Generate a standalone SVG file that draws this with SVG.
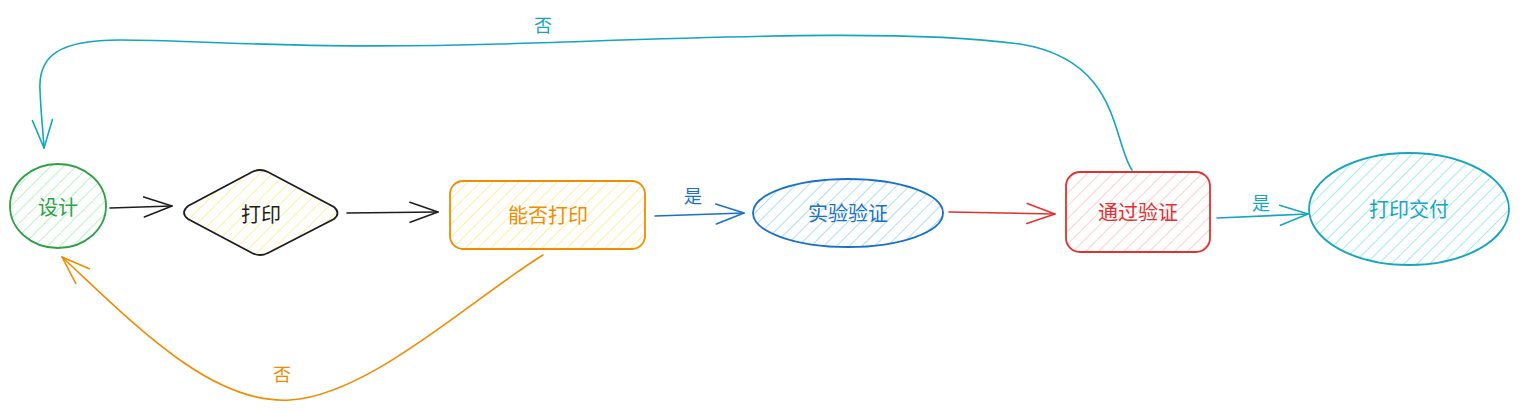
<svg xmlns="http://www.w3.org/2000/svg" width="1520" height="411" viewBox="0 0 1520 411">
<style>
text{font-family:"Noto Sans CJK SC","Noto Sans",sans-serif;font-size:20px;text-anchor:middle;dominant-baseline:central}
.lbl{font-size:18px}
.c{fill:none;stroke-width:1.6;stroke-linecap:round;stroke-linejoin:round}
.n{stroke-width:1.8}
</style>
<defs>
<pattern id="hg" width="9" height="9" patternUnits="userSpaceOnUse" patternTransform="rotate(45)"><line x1="0" y1="0" x2="0" y2="9" stroke="#b2f2bb" stroke-width="1.8"/></pattern>
<pattern id="hy" width="9" height="9" patternUnits="userSpaceOnUse" patternTransform="rotate(45)"><line x1="0" y1="0" x2="0" y2="9" stroke="#ffec99" stroke-width="1.8"/></pattern>
<pattern id="hb" width="9" height="9" patternUnits="userSpaceOnUse" patternTransform="rotate(45)"><line x1="0" y1="0" x2="0" y2="9" stroke="#a5d8ff" stroke-width="1.8"/></pattern>
<pattern id="hr" width="9" height="9" patternUnits="userSpaceOnUse" patternTransform="rotate(45)"><line x1="0" y1="0" x2="0" y2="9" stroke="#ffc9c9" stroke-width="1.8"/></pattern>
<pattern id="hc" width="9" height="9" patternUnits="userSpaceOnUse" patternTransform="rotate(45)"><line x1="0" y1="0" x2="0" y2="9" stroke="#99e9f2" stroke-width="1.8"/></pattern>
<marker id="ak" markerUnits="userSpaceOnUse" markerWidth="40" markerHeight="40" refX="30" refY="20" orient="auto" viewBox="0 0 40 40"><path d="M2,10 L30,20 L2,30" fill="none" stroke="#1e1e1e" stroke-width="1.6" stroke-linecap="round" stroke-linejoin="round"/></marker>
<marker id="ab" markerUnits="userSpaceOnUse" markerWidth="40" markerHeight="40" refX="30" refY="20" orient="auto" viewBox="0 0 40 40"><path d="M2,10 L30,20 L2,30" fill="none" stroke="#1971c2" stroke-width="1.6" stroke-linecap="round" stroke-linejoin="round"/></marker>
<marker id="ar" markerUnits="userSpaceOnUse" markerWidth="40" markerHeight="40" refX="30" refY="20" orient="auto" viewBox="0 0 40 40"><path d="M2,10 L30,20 L2,30" fill="none" stroke="#e03131" stroke-width="1.6" stroke-linecap="round" stroke-linejoin="round"/></marker>
<marker id="ac" markerUnits="userSpaceOnUse" markerWidth="40" markerHeight="40" refX="30" refY="20" orient="auto" viewBox="0 0 40 40"><path d="M2,10 L30,20 L2,30" fill="none" stroke="#17a5be" stroke-width="1.6" stroke-linecap="round" stroke-linejoin="round"/></marker>
<marker id="ao" markerUnits="userSpaceOnUse" markerWidth="40" markerHeight="40" refX="30" refY="20" orient="auto" viewBox="0 0 40 40"><path d="M2,10 L30,20 L2,30" fill="none" stroke="#f08c00" stroke-width="1.6" stroke-linecap="round" stroke-linejoin="round"/></marker>
</defs>

<g id="connectors">
<path class="c" stroke="#1e1e1e" d="M110,208 L172,206" marker-end="url(#ak)"/>
<path class="c" stroke="#1e1e1e" d="M347,213 L438,212" marker-end="url(#ak)"/>
<path class="c" stroke="#1971c2" d="M655,216 L744,213" marker-end="url(#ab)"/>
<path class="c" stroke="#e03131" d="M949,212 L1055,214" marker-end="url(#ar)"/>
<path class="c" stroke="#17a5be" d="M1217,218 L1308,214" marker-end="url(#ac)"/>
<path class="c" stroke="#17a5be" d="M1132,170 C1112,140 1120,60 1020,44 C900,28 700,38 500,44 C300,50 200,40 120,40 C60,40 38,55 40,90 C41,115 43,130 44,148" marker-end="url(#ac)"/>
<path class="c" stroke="#f08c00" d="M543,255 C470,300 370,395 290,400 C210,405 130,320 62,257" marker-end="url(#ao)"/>
<text class="lbl" x="693" y="195" fill="#1971c2">是</text>
<text class="lbl" x="1261" y="202" fill="#17a5be">是</text>
<text class="lbl" x="543" y="24" fill="#17a5be">否</text>
<text class="lbl" x="282" y="373" fill="#f08c00">否</text>
</g>

<g id="node-design">
<ellipse class="n" cx="58" cy="206" rx="48" ry="42" fill="url(#hg)" stroke="#2f9e44"/>
<text x="58" y="206" fill="#2f9e44">设计</text>
</g>
<g id="node-print">
<path class="n" d="M188,206 L252,172 Q260,168 268,172 L334,207 Q341,213 334,219 L268,253 Q260,257 252,253 L188,219 Q180,213 188,206 Z" fill="url(#hy)" stroke="#1e1e1e"/>
<text x="261" y="213" fill="#1e1e1e">打印</text>
</g>
<g id="node-canprint">
<rect class="n" x="450" y="181" width="195" height="68" rx="13" fill="url(#hy)" stroke="#f08c00"/>
<text x="548" y="214" fill="#f08c00">能否打印</text>
</g>
<g id="node-verify">
<ellipse class="n" cx="848" cy="213" rx="95" ry="34" fill="url(#hb)" stroke="#1971c2"/>
<text x="848" y="212" fill="#1971c2">实验验证</text>
</g>
<g id="node-pass">
<rect class="n" x="1066" y="172" width="144" height="80" rx="14" fill="url(#hr)" stroke="#e03131"/>
<text x="1138" y="211" fill="#e03131">通过验证</text>
</g>
<g id="node-deliver">
<ellipse class="n" cx="1409" cy="209" rx="100" ry="56" fill="url(#hc)" stroke="#17a5be"/>
<text x="1409" y="208" fill="#17a5be">打印交付</text>
</g>
</svg>
